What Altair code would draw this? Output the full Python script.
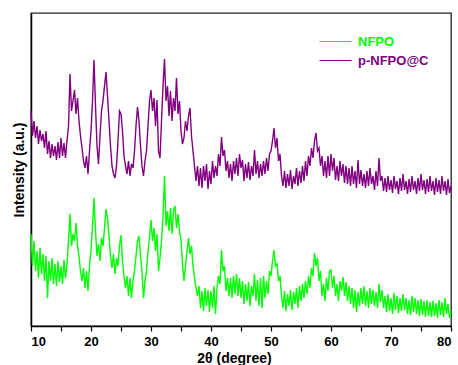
import altair as alt
import pandas as pd

# 2-theta sampling grid (degrees)
theta_start = 10.0
theta_step = 0.25

series_names = ["NFPO", "p-NFPO@C"]
series_colors = ["#00ff00", "#800080"]

# p-NFPO@C intensity (a.u.), 10..80 deg, 4 samples per degree
purple = [
    215, 190, 205, 188,  200, 182, 196, 185,  192, 178, 195, 172,  185, 168, 182, 170,
    180, 166, 184, 168,  188, 170, 183, 168,  185, 200, 252, 215,  225, 236, 212, 228,
    205, 190, 178, 165,  158, 170, 152, 175,  195, 225, 266, 220,  180, 162, 190, 215,
    225, 240, 254, 230,  205, 180, 160, 152,  148, 160, 185, 215,  212, 195, 170, 160,
    152, 165, 150, 162,  158, 175, 200, 219,  205, 180, 160, 150,  165, 175, 200, 225,
    236, 215, 228, 200,  226, 175, 168, 205,  240, 267, 225, 240,  210, 235, 205, 228,
    215, 248, 212, 225,  195, 182, 188, 205,  195, 210, 218, 190,  175, 160, 145, 160,
    140, 158, 138, 160,  145, 162, 137, 155,  142, 165, 148, 160,  150, 172, 160, 189,
    170, 176, 155, 165,  148, 162, 145, 165,  152, 168, 150, 172,  158, 166, 145, 162,
    148, 164, 146, 160,  150, 176, 152, 165,  148, 162, 150, 165,  152, 168, 155, 172,
    175, 185, 198, 178,  188, 165, 172, 150,  140, 155, 138, 152,  140, 156, 137, 150,
    142, 158, 140, 155,  143, 160, 145, 165,  150, 170, 160, 178,  168, 185, 193, 175,
    178, 160, 170, 150,  165, 148, 170, 150,  172, 155, 168, 146,  160, 145, 165, 150,
    162, 143, 160, 142,  158, 140, 160, 142,  155, 138, 166, 142,  156, 140, 152, 138,
    155, 140, 158, 142,  150, 136, 155, 140,  168, 145, 150, 135,  148, 134, 150, 136,
    146, 133, 150, 137,  145, 132, 148, 135,  152, 136, 145, 132,  147, 134, 150, 136,
    145, 132, 148, 135,  152, 136, 146, 132,  147, 134, 150, 135,  145, 131, 148, 134,
    146, 132, 150, 135,  145, 131, 147, 133,  140,
]

# NFPO intensity (a.u.), 10..80 deg, 4 samples per degree
green = [
    92, 60, 85, 55,  75, 48, 78, 52,  72, 45, 70, 28,  65, 45, 68, 42,
    62, 40, 65, 44,  60, 42, 66, 48,  62, 85, 112, 80,  92, 85, 103, 80,
    70, 55, 45, 58,  38, 55, 35, 60,  75, 100, 128, 95,  70, 82, 65, 88,
    80, 98, 117, 108,  90, 70, 58, 72,  52, 68, 60, 80,  91, 65, 50, 38,
    50, 30, 48, 28,  45, 55, 70, 85,  90, 70, 55, 28,  45, 55, 75, 88,
    106, 85, 98, 75,  92, 55, 68, 85,  110, 150, 100, 115,  95, 118, 92, 115,
    120, 98, 112, 95,  86, 62, 45, 60,  75, 88, 72, 80,  60, 48, 38, 30,
    40, 18, 35, 15,  38, 20, 36, 14,  35, 18, 40, 12,  38, 50, 42, 76,
    55, 60, 35, 48,  30, 48, 28, 50,  32, 52, 30, 48,  28, 45, 22, 42,
    25, 44, 20, 40,  30, 52, 25, 46,  20, 48, 18, 50,  28, 45, 32, 55,
    50, 65, 76, 60,  62, 45, 50, 30,  18, 35, 15, 32,  20, 36, 16, 34,
    22, 38, 18, 40,  25, 42, 28, 45,  32, 50, 38, 58,  50, 73, 60, 68,
    45, 55, 30, 42,  25, 48, 35, 55,  56, 38, 50, 30,  42, 25, 45, 35,
    49, 30, 44, 25,  40, 22, 38, 18,  36, 14, 34, 20,  38, 22, 40, 20,
    35, 18, 38, 22,  36, 20, 34, 18,  42, 24, 36, 18,  30, 14, 32, 15,
    28, 12, 33, 16,  30, 13, 28, 15,  32, 16, 28, 12,  26, 11, 30, 14,
    28, 12, 26, 10,  27, 11, 25, 9,  26, 10, 24, 9,  25, 10, 23, 8,
    26, 11, 24, 9,  28, 12, 22, 8,  15,
]

theta = [theta_start + theta_step * i for i in range(len(purple))]

df_g = pd.DataFrame({"theta": theta, "intensity": green, "series": series_names[0]})
df_p = pd.DataFrame({"theta": theta, "intensity": purple, "series": series_names[1]})

FONT = "Liberation Sans"

x_enc = alt.X(
    "theta:Q",
    scale=alt.Scale(domain=[10, 80], nice=False, zero=False),
    axis=alt.Axis(
        values=list(range(10, 81, 5)),
        labelExpr="datum.value % 10 == 0 ? datum.label : ''",
        title="2θ (degree)",
        titleFont=FONT, titleFontSize=14, titleFontWeight="bold", titleColor="black",
        titleX=203, titlePadding=3,
        labelFont=FONT, labelFontSize=13, labelFontWeight="bold", labelColor="black",
        labelPadding=4,
        tickSize=5, tickColor="black", tickWidth=1.2,
        domainColor="black", domainWidth=1.5, grid=False,
    ),
)
y_enc = alt.Y(
    "intensity:Q",
    scale=alt.Scale(domain=[0, 313], nice=False, zero=False),
    axis=alt.Axis(
        labels=False, ticks=False, grid=False,
        title="Intensity (a.u.)",
        titleFont=FONT, titleFontSize=14, titleFontWeight="bold", titleColor="black",
        titlePadding=5,
        domainColor="black", domainWidth=1.5,
    ),
)

leg_common = dict(
    title=None, orient="none", symbolType="stroke", symbolSize=1024,
    symbolStrokeWidth=1, labelFont=FONT, labelFontSize=13, labelFontWeight="bold",
    labelOffset=6, padding=0,
)

green_layer = alt.Chart(df_g).mark_line(strokeWidth=1.4, strokeJoin="miter").encode(
    x=x_enc, y=y_enc,
    color=alt.Color(
        "series:N",
        scale=alt.Scale(domain=[series_names[0]], range=[series_colors[0]]),
        legend=alt.Legend(legendX=288, legendY=12, labelColor=series_colors[0], **leg_common),
    ),
)
purple_layer = alt.Chart(df_p).mark_line(strokeWidth=1.4, strokeJoin="miter").encode(
    x=x_enc, y=y_enc,
    stroke=alt.Stroke(
        "series:N",
        scale=alt.Scale(domain=[series_names[1]], range=[series_colors[1]]),
        legend=alt.Legend(legendX=288, legendY=31, labelColor=series_colors[1], **leg_common),
    ),
)

chart = (
    alt.layer(green_layer, purple_layer)
    .properties(
        width=420, height=313, autosize="none",
        padding={"left": 31, "top": 13, "right": 7, "bottom": 39},
        background="white",
    )
    .configure_view(stroke="#222", strokeWidth=1.3)
)

chart.save("out.html", embed_options={"renderer": "svg", "actions": False})
